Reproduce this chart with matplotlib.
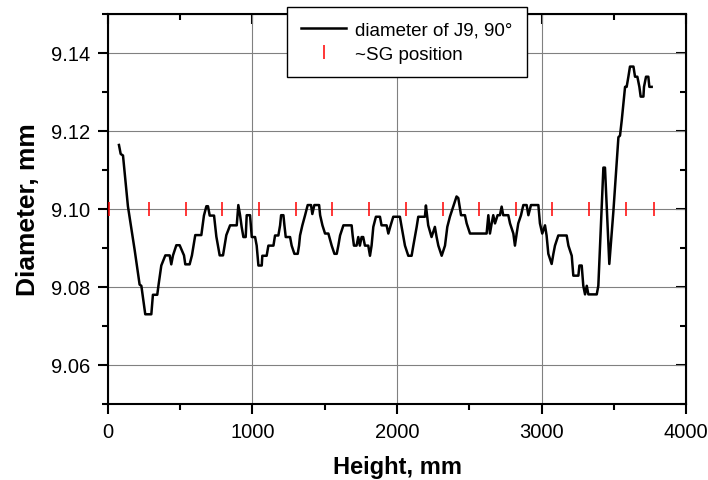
import matplotlib
matplotlib.use("Agg")
from matplotlib import pyplot as plt
from matplotlib.ticker import MultipleLocator

plt.rcParams['font.family'] = ['Liberation Sans', 'DejaVu Sans']

# Diameter profile of J9 at 90 deg
height_mm = [76, 88, 104, 138, 185, 219, 231, 258, 300, 311, 341, 351, 369, 397, 427, 438, 450,
             473, 496, 526, 535, 565, 581, 604, 646, 664, 681, 692, 704, 734, 750, 773, 796, 819,
             845, 891, 902, 914, 925, 937, 953, 960, 983, 995, 1018, 1029, 1041, 1064, 1068, 1098,
             1110, 1145, 1156, 1179, 1191, 1198, 1214, 1221, 1230, 1260, 1271, 1290, 1313, 1322,
             1329, 1345, 1364, 1382, 1405, 1414, 1428, 1461, 1468, 1484, 1502, 1525, 1548, 1567,
             1583, 1594, 1606, 1629, 1686, 1693, 1702, 1720, 1732, 1743, 1755, 1766, 1778, 1801,
             1813, 1824, 1836, 1854, 1882, 1893, 1928, 1940, 1956, 1974, 2020, 2032, 2055, 2078,
             2101, 2113, 2136, 2147, 2193, 2200, 2209, 2216, 2239, 2262, 2274, 2286, 2309, 2332,
             2348, 2366, 2389, 2412, 2424, 2443, 2470, 2482, 2505, 2620, 2627, 2632, 2643, 2655,
             2666, 2678, 2696, 2712, 2724, 2735, 2770, 2782, 2805, 2816, 2828, 2839, 2858, 2874,
             2897, 2909, 2927, 2978, 2989, 3005, 3024, 3035, 3047, 3070, 3082, 3093, 3116, 3174,
             3186, 3209, 3220, 3255, 3262, 3278, 3289, 3301, 3313, 3324, 3382, 3393, 3428, 3439,
             3469, 3497, 3532, 3543, 3555, 3578, 3589, 3601, 3612, 3636, 3647, 3663, 3677, 3686,
             3705, 3709, 3723, 3739, 3746, 3762]
diameter_mm = [9.1164, 9.1141, 9.1137, 9.1007, 9.0894, 9.0806, 9.0803, 9.0730, 9.0730, 9.0780,
               9.0780, 9.0808, 9.0855, 9.0881, 9.0881, 9.0858, 9.0881, 9.0907, 9.0907, 9.0881,
               9.0858, 9.0858, 9.0881, 9.0933, 9.0933, 9.0983, 9.1007, 9.1007, 9.0983, 9.0983,
               9.0929, 9.0881, 9.0881, 9.0933,
               9.0958, 9.0958, 9.1010, 9.0984, 9.0954, 9.0928, 9.0928, 9.0984, 9.0984, 9.0928,
               9.0928, 9.0906, 9.0855, 9.0855, 9.0880, 9.0880, 9.0906, 9.0906, 9.0932, 9.0932,
               9.0958, 9.0984, 9.0984, 9.0958, 9.0928, 9.0928, 9.0906, 9.0885, 9.0885, 9.0906,
               9.0932, 9.0958, 9.0984, 9.1010, 9.1010, 9.0987, 9.1010, 9.1010, 9.0984, 9.0958,
               9.0937, 9.0937, 9.0906, 9.0885, 9.0885, 9.0906, 9.0932, 9.0958,
               9.0958, 9.0932, 9.0906, 9.0906, 9.0928, 9.0906, 9.0928, 9.0928, 9.0906, 9.0906,
               9.0880, 9.0906, 9.0954, 9.0980, 9.0980, 9.0958, 9.0958, 9.0937, 9.0958, 9.0980,
               9.0980, 9.0954, 9.0906, 9.0880, 9.0880, 9.0906, 9.0954, 9.0980, 9.0980, 9.1009,
               9.0980, 9.0958, 9.0928, 9.0954, 9.0928, 9.0906, 9.0880, 9.0906, 9.0954, 9.0980,
               9.1006, 9.1032,
               9.1028, 9.0984, 9.0984, 9.0963, 9.0937, 9.0937, 9.0963, 9.0984, 9.0937, 9.0963,
               9.0984, 9.0963, 9.0984, 9.0984, 9.1006, 9.0984, 9.0984, 9.0963, 9.0937, 9.0906,
               9.0937, 9.0963, 9.0984, 9.1010, 9.1010, 9.0984, 9.1010, 9.1010, 9.0963, 9.0937,
               9.0958, 9.0932, 9.0885, 9.0859, 9.0885, 9.0906, 9.0932, 9.0932,
               9.0906, 9.0880, 9.0829, 9.0829, 9.0855, 9.0855, 9.0803, 9.0781, 9.0803, 9.0781,
               9.0781, 9.0803, 9.1106, 9.1106, 9.0859, 9.0993, 9.1184, 9.1188, 9.1227, 9.1313,
               9.1313, 9.1339, 9.1365, 9.1365, 9.1339, 9.1339, 9.1313, 9.1288, 9.1288, 9.1313,
               9.1339, 9.1339, 9.1313, 9.1313]

# approximate strain gauge positions
sg_height = [10, 284, 542, 791, 1048, 1299, 1553, 1808, 2059, 2316, 2567, 2821, 3075, 3329,
             3585, 3781]
sg_level = 9.10

fig = plt.figure(figsize=(7.08, 4.81), dpi=100)
ax = fig.add_axes([0.1525, 0.158, 0.8165, 0.811])

ax.plot(height_mm, diameter_mm, color='black', lw=1.8, label='diameter of J9, 90°', zorder=3)
ax.plot(sg_height, [sg_level] * len(sg_height), ls='none', marker='|', color='red',
        markersize=10, markeredgewidth=1.1, label='~SG position', zorder=4)

ax.set_xlim(0, 4000)
ax.set_ylim(9.05, 9.15)
ax.xaxis.set_major_locator(MultipleLocator(1000))
ax.xaxis.set_minor_locator(MultipleLocator(500))
ax.yaxis.set_major_locator(MultipleLocator(0.02))
ax.yaxis.set_minor_locator(MultipleLocator(0.01))
ax.yaxis.set_major_formatter(plt.FormatStrFormatter('%.2f'))
ax.grid(True, which='major', color='#808080', lw=0.8)

for s in ax.spines.values():
    s.set_linewidth(1.5)
ax.tick_params(which='both', direction='out', labelsize=14.5, width=1.5, pad=6)
ax.tick_params(which='major', length=7)
ax.tick_params(which='minor', length=4)

# mirrored ticks pointing inwards on top and right
ax_top = ax.secondary_xaxis('top')
ax_top.xaxis.set_major_locator(MultipleLocator(1000))
ax_top.xaxis.set_minor_locator(MultipleLocator(500))
ax_top.tick_params(which='both', direction='in', labeltop=False, width=1.5)
ax_top.tick_params(which='major', length=7)
ax_top.tick_params(which='minor', length=4)
ax_right = ax.secondary_yaxis('right')
ax_right.yaxis.set_major_locator(MultipleLocator(0.02))
ax_right.yaxis.set_minor_locator(MultipleLocator(0.01))
ax_right.tick_params(which='both', direction='in', labelright=False, width=1.5)
ax_right.tick_params(which='major', length=7)
ax_right.tick_params(which='minor', length=4)

ax.set_xlabel('Height, mm', fontsize=17, fontweight='bold', labelpad=10)
ax.set_ylabel('Diameter, mm', fontsize=19, fontweight='bold', labelpad=8)

leg = ax.legend(loc='upper left', bbox_to_anchor=(287 / 708, 1 - 8 / 481),
                bbox_transform=fig.transFigure, fontsize=13.5, frameon=True, fancybox=False,
                framealpha=1, edgecolor='black', handlelength=2.4, handletextpad=0.5,
                labelspacing=0.4, borderpad=0.75, borderaxespad=0)
leg.get_frame().set_linewidth(1.0)
leg.set_zorder(10)

fig.savefig('out.png', dpi=100)
